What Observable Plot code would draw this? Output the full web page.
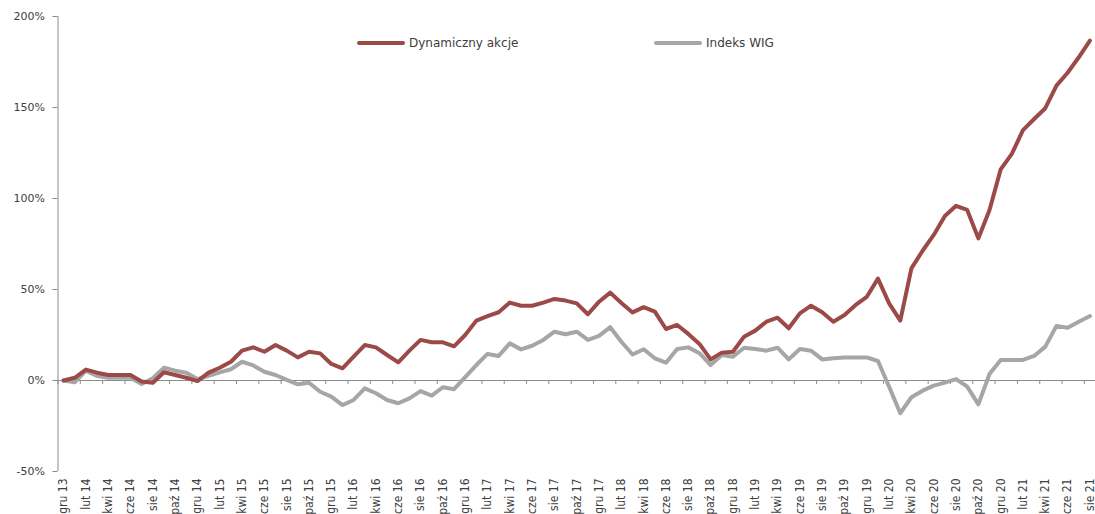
<!DOCTYPE html>
<html>
<head>
<meta charset="utf-8">
<script src="https://cdn.jsdelivr.net/npm/d3@7"></script>
<script src="https://cdn.jsdelivr.net/npm/@observablehq/plot@0.6"></script>
<style>
  html, body { margin: 0; padding: 0; background: #fff; }
  #wrap { position: relative; width: 1095px; height: 514px; }
  .leg { position: absolute; display: flex; align-items: center; font: 12px "DejaVu Sans", sans-serif; color: #404040; white-space: nowrap; }
  .leg svg { margin-right: 4px; }
</style>
</head>
<body>
<div id="wrap"></div>
<script>
// x categories (monthly, gru 13 .. sie 21)
const months = [
  "gru 13","sty 14","lut 14","mar 14","kwi 14","maj 14","cze 14","lip 14","sie 14","wrz 14","paź 14","lis 14",
  "gru 14","sty 15","lut 15","mar 15","kwi 15","maj 15","cze 15","lip 15","sie 15","wrz 15","paź 15","lis 15",
  "gru 15","sty 16","lut 16","mar 16","kwi 16","maj 16","cze 16","lip 16","sie 16","wrz 16","paź 16","lis 16",
  "gru 16","sty 17","lut 17","mar 17","kwi 17","maj 17","cze 17","lip 17","sie 17","wrz 17","paź 17","lis 17",
  "gru 17","sty 18","lut 18","mar 18","kwi 18","maj 18","cze 18","lip 18","sie 18","wrz 18","paź 18","lis 18",
  "gru 18","sty 19","lut 19","mar 19","kwi 19","maj 19","cze 19","lip 19","sie 19","wrz 19","paź 19","lis 19",
  "gru 19","sty 20","lut 20","mar 20","kwi 20","maj 20","cze 20","lip 20","sie 20","wrz 20","paź 20","lis 20",
  "gru 20","sty 21","lut 21","mar 21","kwi 21","maj 21","cze 21","lip 21","sie 21"
];

// series values, % return
const dynamicznyAkcje = [
  0, 1.5, 6, 4.3, 3, 3, 3, -0.5, -1.2, 4.5, 3, 1.5,
  -0.3, 4.3, 7, 10.3, 16.4, 18.2, 15.8, 19.5, 16.4, 12.7, 15.8, 14.9,
  9.1, 6.7, 13.1, 19.5, 18.2, 14, 10, 16.4, 22.3, 21, 21, 18.8,
  25, 32.9, 35.4, 37.5, 42.8, 41.1, 41.1, 42.8, 44.8, 43.9, 42.4, 36.4,
  43.3, 48.3, 42.6, 37.4, 40.3, 37.8, 28.3, 30.5, 25.6, 20.1, 11.6, 15.3,
  15.8, 24.1, 27.4, 32.3, 34.5, 28.7, 36.9, 41.1, 37.5, 32.3, 36, 41.5,
  46, 56, 42.4, 32.9, 61.6, 71.3, 80, 90.4, 96, 93.7, 78.1, 93.7,
  116, 124.5, 137.6, 143.7, 149.6, 162, 169.1, 177.6, 186.7
];
const indeksWIG = [
  0, -1, 5.4, 2.5, 1.5, 1.5, 1.5, -1.9, 1.2, 7, 5.4, 4.3,
  0.8, 2.6, 4.5, 6.2, 10.3, 8.3, 4.8, 3, 0.3, -2.1, -1.2, -6.2,
  -8.9, -13.5, -10.7, -4.3, -7, -10.7, -12.5, -9.8, -5.8, -8.3, -3.7, -4.8,
  1.8, 8.5, 14.6, 13.5, 20.4, 17.1, 19.1, 22.3, 26.8, 25.4, 26.8, 22.3,
  24.5, 29.3, 21.3, 14.3, 17.2, 12.2, 9.8, 17.3, 18.2, 15, 8.5, 14,
  13.1, 18, 17.3, 16.4, 18, 11.6, 17.3, 16.4, 11.6, 12.2, 12.7, 12.7,
  12.7, 10.7, -3.4, -18, -9.2, -5.6, -2.8, -1.2, 0.8, -3.4, -13.1, 3.6,
  11.3, 11.3, 11.3, 13.5, 18.6, 30, 29, 32.3, 35.4
];

const yTicks = [-50, 0, 50, 100, 150, 200];
const seriesNames = ["Dynamiczny akcje", "Indeks WIG"];
const seriesColors = ["#9b4a47", "#a6a6a6"];

const idx = months.map((_, i) => i);
const labelIdx = idx.filter(i => i % 2 === 0);
const tickBoundaries = labelIdx.map(i => i - 0.5);
const dynData = dynamicznyAkcje.map((v, i) => ({i, v}));
const wigData = indeksWIG.map((v, i) => ({i, v}));

const axisColor = "#8c8c8c";
const textColor = "#404040";

const chart = Plot.plot({
  width: 1095,
  height: 514,
  marginLeft: 57.5,
  marginRight: 0,
  marginTop: 16,
  marginBottom: 43,
  x: {type: "linear", domain: [-0.5, months.length - 0.5], axis: null},
  y: {domain: [-50, 200], axis: null},
  style: {background: "#fff", fontFamily: "'DejaVu Sans', sans-serif"},
  marks: [
    Plot.ruleY([0], {stroke: axisColor, strokeWidth: 1}),
    Plot.ruleX(tickBoundaries, {x: d => d, y1: 0, y2: 0, insetBottom: -4, stroke: axisColor}),
    Plot.ruleX([-0.5], {stroke: axisColor, strokeWidth: 1}),
    Plot.axisY({
      ticks: yTicks, tickFormat: d => d + "%", tickSize: 5, tickPadding: 8,
      color: textColor, stroke: axisColor, strokeOpacity: 1, fontSize: 11, label: null
    }),
    Plot.axisX({
      ticks: labelIdx, tickFormat: i => months[i], tickRotate: -90, tickSize: 0, tickPadding: 7,
      color: textColor, fontSize: 12, label: null,
      fontFamily: "'Liberation Sans Narrow', 'Arial Narrow', 'DejaVu Sans Condensed', sans-serif"
    }),
    Plot.line(wigData, {x: "i", y: "v", stroke: seriesColors[1], strokeWidth: 4, strokeLinejoin: "round"}),
    Plot.line(dynData, {x: "i", y: "v", stroke: seriesColors[0], strokeWidth: 4, strokeLinejoin: "round"})
  ]
});

const wrap = document.getElementById("wrap");
wrap.appendChild(chart);

// legend (inside the plot area, top)
const legendPos = [{left: 357, top: 35}, {left: 654, top: 35}];
seriesNames.forEach((name, k) => {
  const d = document.createElement("div");
  d.className = "leg";
  d.style.left = legendPos[k].left + "px";
  d.style.top = legendPos[k].top + "px";
  d.innerHTML = `<svg width="48" height="16"><line x1="2" y1="8" x2="46" y2="8" stroke="${seriesColors[k]}" stroke-width="4" stroke-linecap="round"/></svg><span>${name}</span>`;
  wrap.appendChild(d);
});
</script>
</body>
</html>
